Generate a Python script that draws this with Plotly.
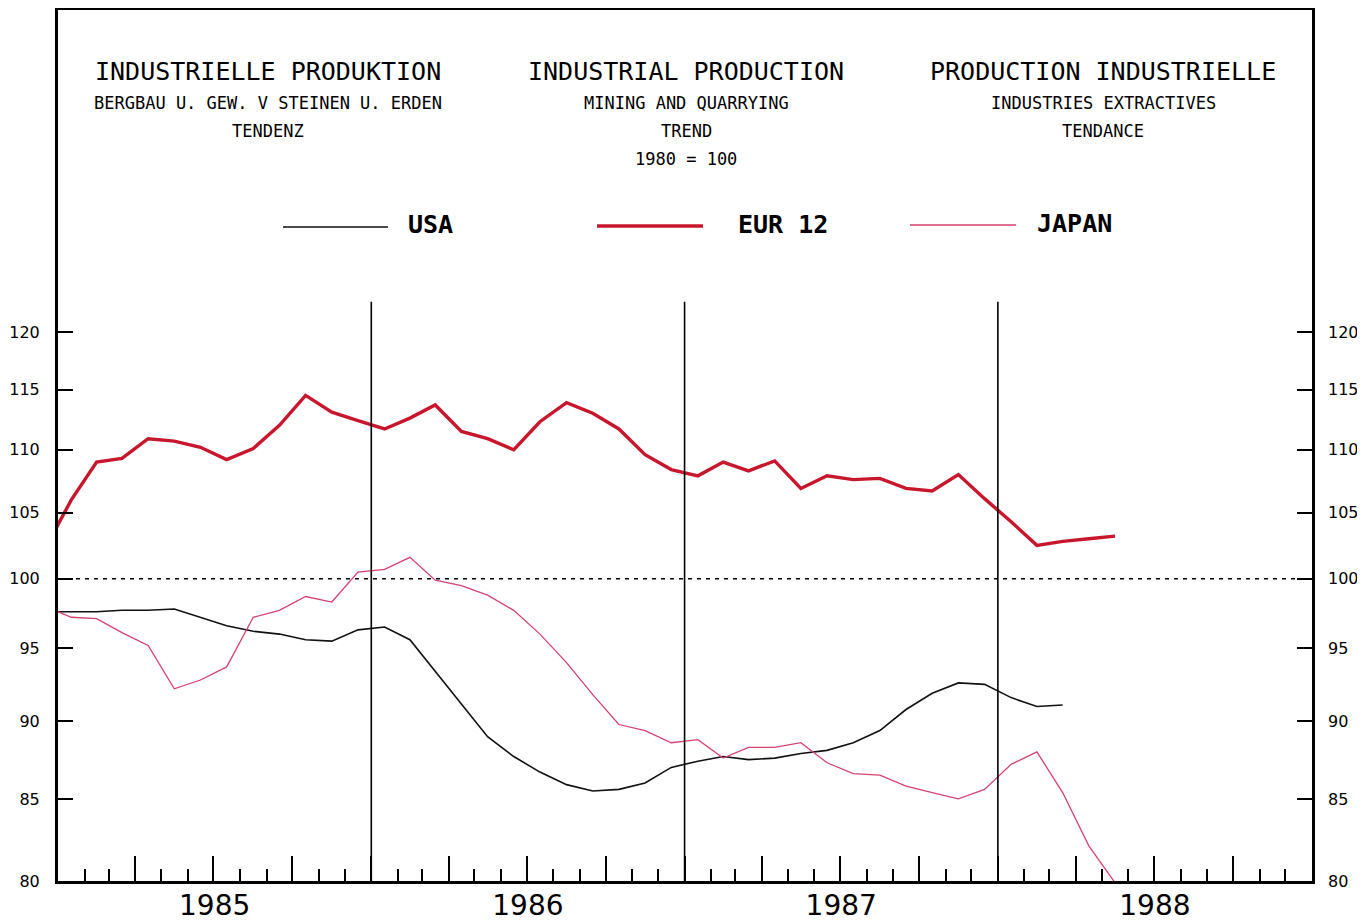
import math
import pandas as pd
import plotly.graph_objects as go

# ---------------- data (monthly, Dec 1984 .. May 1988) ----------------
months = pd.date_range("1984-12-01", "1988-05-01", freq="MS").strftime("%Y-%m-%d").tolist()

eur12 = [102.2, 106.0, 109.0, 109.3, 110.9, 110.7, 110.2, 109.2, 110.1, 112.0,
         114.5, 113.1, 112.4, 111.7, 112.6, 113.7, 111.5, 110.9, 110.0, 112.3,
         113.9, 113.0, 111.7, 109.6, 108.4, 107.9, 109.0, 108.3, 109.1, 106.9,
         107.9, 107.6, 107.7, 106.9, 106.7, 108.0, 106.1, 104.3, 102.5, 102.8,
         103.0, 103.2]

usa = [97.6, 97.6, 97.6, 97.7, 97.7, 97.8, 97.2, 96.6, 96.2, 96.0,
       95.6, 95.5, 96.3, 96.5, 95.6, 93.4, 91.1, 89.0, 87.7, 86.7,
       85.9, 85.5, 85.6, 86.0, 87.0, 87.4, 87.7, 87.5, 87.6, 87.9,
       88.1, 88.6, 89.4, 90.8, 91.9, 92.6, 92.5, 91.6, 91.0, 91.1]

japan = [98.0, 97.2, 97.1, 96.1, 95.2, 92.2, 92.8, 93.7, 97.2, 97.7,
         98.7, 98.3, 100.5, 100.7, 101.6, 99.9, 99.5, 98.8, 97.7, 96.0,
         94.0, 91.8, 89.8, 89.4, 88.6, 88.8, 87.6, 88.3, 88.3, 88.6,
         87.3, 86.6, 86.5, 85.8, 85.4, 85.0, 85.6, 87.2, 88.0, 85.4,
         82.1, 79.9]

y_ticks = [80, 85, 90, 95, 100, 105, 110, 115, 120]
year_breaks = ["1986-01-01", "1987-01-01", "1988-01-01"]
x_start, x_end = "1985-01-01", "1989-01-01"
y_min, y_max = 80, 152.2
base_value = 100
break_top = 122.7

titles = [
    ("INDUSTRIELLE PRODUKTION", "BERGBAU U. GEW. V STEINEN U. ERDEN", "TENDENZ", None),
    ("INDUSTRIAL PRODUCTION", "MINING AND QUARRYING", "TREND", "1980 = 100"),
    ("PRODUCTION INDUSTRIELLE", "INDUSTRIES EXTRACTIVES", "TENDANCE", None),
]

# ---------------- styles ----------------
styles = {
    "USA": dict(color="#111111", width=1.6),
    "EUR 12": dict(color="#c8162c", width=3.4),
    "JAPAN": dict(color="#d4426e", width=1.3),
}
series = [("USA", usa), ("JAPAN", japan), ("EUR 12", eur12)]

MONO = "DejaVu Sans Mono"
fig = go.Figure()

# base line at 100
fig.add_trace(go.Scatter(x=[x_start, x_end], y=[base_value, base_value], mode="lines",
                         line=dict(color="black", width=1.5, dash="4px,5px"),
                         hoverinfo="skip"))

# year boundary lines (on overlay axes so they are drawn)
bx, by = [], []
for d in year_breaks:
    bx += [d, d, None]
    by += [y_min, break_top, None]
fig.add_trace(go.Scatter(x=bx, y=by, mode="lines", xaxis="x2", yaxis="y2",
                         line=dict(color="black", width=1.6), hoverinfo="skip"))

for name, vals in series:
    fig.add_trace(go.Scatter(x=months[:len(vals)], y=vals, mode="lines", name=name,
                             xperiod="M1", xperiodalignment="middle",
                             line=dict(**styles[name])))

# ---------------- geometry (page has an 8px body margin) ----------------
PAGE_OFF = 8
fig_w, fig_h = 1365 - PAGE_OFF, 923 - PAGE_OFF
px_w, px_h = 1254, 871
ml, mt = 58 - PAGE_OFF, 10 - PAGE_OFF


def px(X):
    return (X - PAGE_OFF - ml) / px_w


def py(Y):
    return (mt + px_h - (Y - PAGE_OFF)) / px_h


def note(X, Y, text, size, anchor="center"):
    fig.add_annotation(x=px(X), y=py(Y), xref="paper", yref="paper", text=text,
                       xanchor=anchor, yanchor="middle", showarrow=False,
                       font=dict(family=MONO, size=size, color="black"))


centers = [268, 686, 1103]
for cx, (t, s1, s2, s3) in zip(centers, titles):
    note(cx, 72, t, 25)
    note(cx, 103, s1, 17)
    note(cx, 131, s2, 17)
    if s3:
        note(cx, 159, s3, 17)

# ---------------- manual legend ----------------
legend_items = [("USA", 283, 388, 406, 227), ("EUR 12", 597, 703, 736, 226), ("JAPAN", 910, 1016, 1035, 225)]
for name, x0, x1, xt, yy in legend_items:
    st = styles[name]
    fig.add_shape(type="line", xref="paper", yref="paper", x0=px(x0), x1=px(x1),
                  y0=py(yy), y1=py(yy), line=dict(color=st["color"], width=st["width"]))
    note(xt, yy - 2, f"<b>{name}</b>", 25, anchor="left")

tickfont = dict(family="DejaVu Sans", size=16, color="black")
yrange = [math.log10(y_min), math.log10(y_max)]

fig.update_layout(
    width=fig_w, height=fig_h,
    margin=dict(l=ml, r=fig_w - ml - px_w, t=mt, b=fig_h - mt - px_h, autoexpand=False),
    paper_bgcolor="white", plot_bgcolor="white",
    showlegend=False,
    xaxis=dict(type="date", range=[x_start, x_end], showline=True, linewidth=3,
               linecolor="black", mirror=True, ticks="inside", tick0=x_start, dtick="M3",
               ticklen=25, tickwidth=2, tickcolor="black", showticklabels=False,
               showgrid=False, zeroline=False, automargin=False,
               minor=dict(ticks="inside", dtick="M1", tick0=x_start, ticklen=12,
                          tickwidth=2, tickcolor="black", showgrid=False)),
    xaxis2=dict(type="date", range=[x_start, x_end], overlaying="x", anchor="y2", side="bottom",
                tick0=x_start, dtick="M12", ticklabelmode="period", tickformat="%Y",
                ticks="", showline=False, showgrid=False, zeroline=False,
                ticklabelstandoff=5, automargin=False,
                tickfont=dict(family="DejaVu Sans", size=28, color="black")),
    yaxis=dict(type="log", range=yrange, tickvals=y_ticks, ticktext=[str(v) for v in y_ticks],
               ticks="inside", ticklen=15, tickwidth=2, tickcolor="black",
               showline=True, mirror=True, linewidth=3, linecolor="black",
               showgrid=False, zeroline=False, tickfont=tickfont, ticklabelstandoff=12,
               automargin=False),
    yaxis2=dict(type="log", range=yrange, tickvals=y_ticks, ticktext=[str(v) for v in y_ticks],
                overlaying="y", side="right", anchor="x2",
                ticks="inside", ticklen=15, tickwidth=2, tickcolor="black",
                showline=False, showgrid=False, zeroline=False, tickfont=tickfont,
                ticklabelstandoff=15, automargin=False),
)

fig.write_html("out.html")
